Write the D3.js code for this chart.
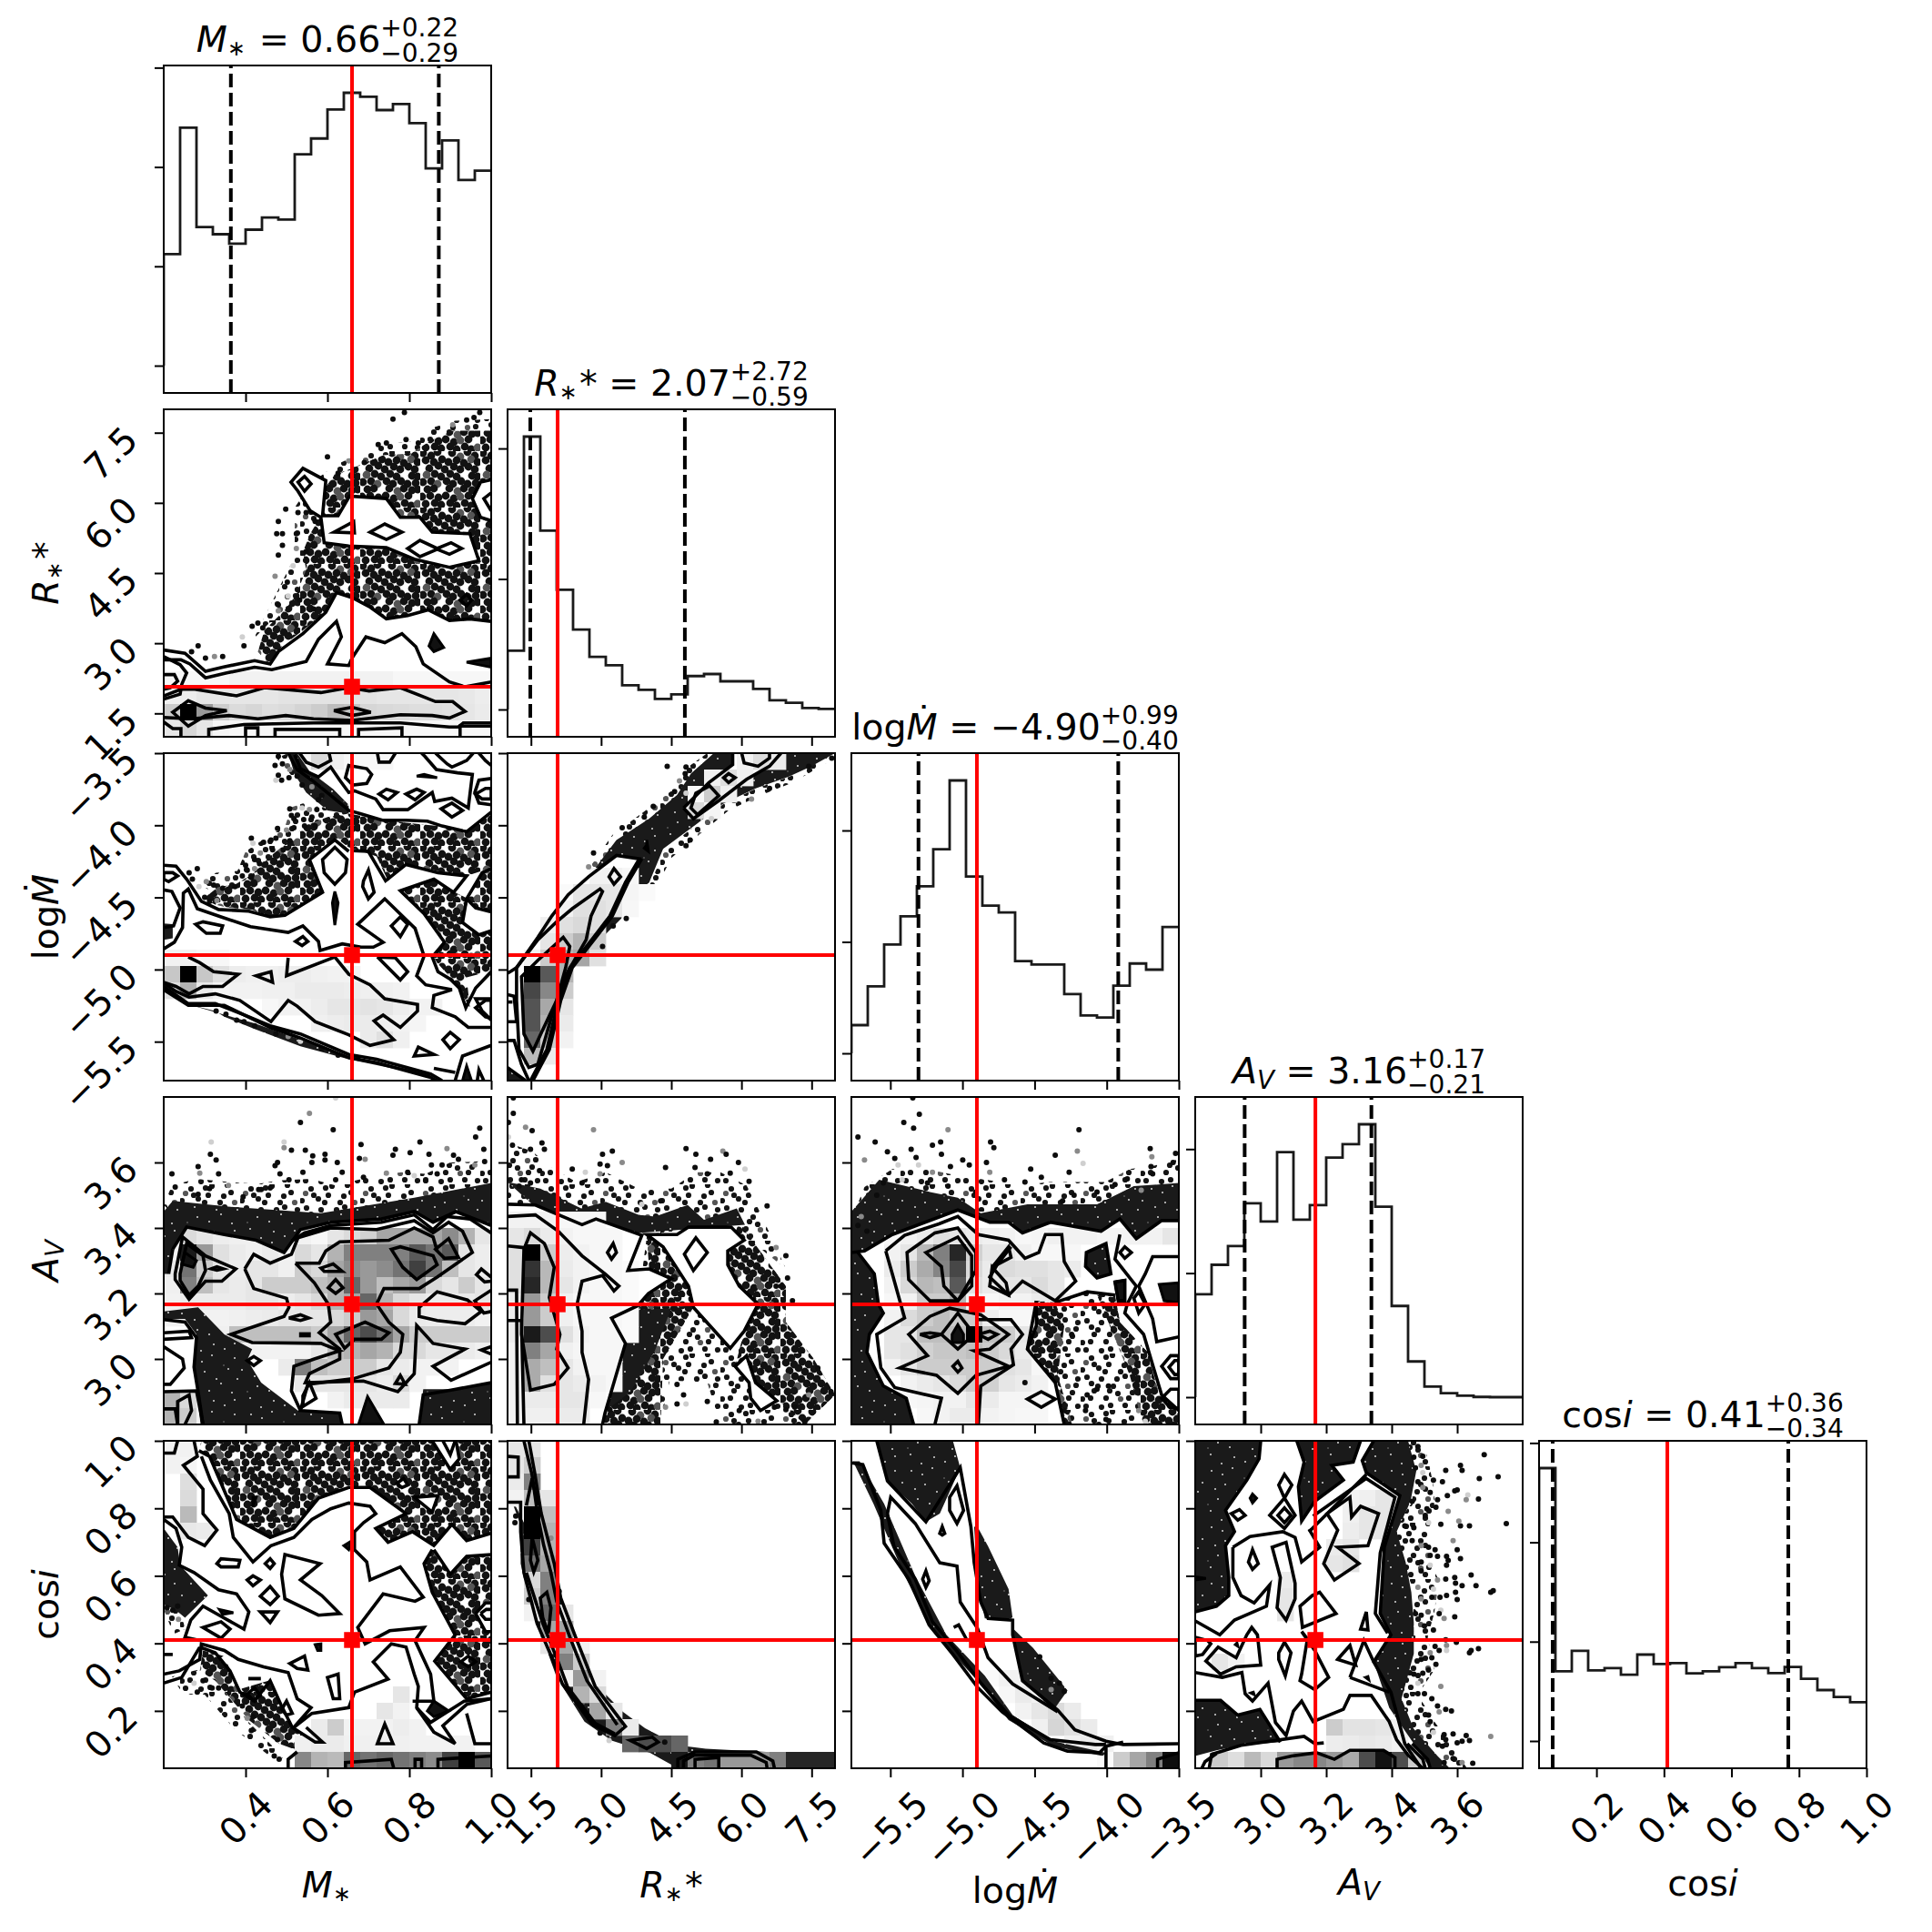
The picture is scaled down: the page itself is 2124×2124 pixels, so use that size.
<!DOCTYPE html>
<html><head><meta charset="utf-8">
<script src="https://cdn.jsdelivr.net/npm/d3@7"></script>
<style>html,body{margin:0;background:#fff}text{font-family:"DejaVu Sans";fill:#000;white-space:pre}</style>
</head><body><svg id="c" width="2124" height="2124" xmlns="http://www.w3.org/2000/svg"></svg>
<script>
// ---------- parameters ----------
const domains=[[0.2,1.0],[1.0,8.0],[-5.77,-3.5],[2.8,3.8],[0.03,1.0]];
const ticks=[[0.4,0.6,0.8,1.0],[1.5,3.0,4.5,6.0,7.5],[-5.5,-5.0,-4.5,-4.0,-3.5],[3.0,3.2,3.4,3.6],[0.2,0.4,0.6,0.8,1.0]];
const medians=[0.66,2.07,-4.90,3.167,0.41];
const q16=[0.364,1.486,-5.305,2.951,0.0704];
const q84=[0.872,4.79,-3.92,3.338,0.7684];
const titleVals=[["0.66","+0.22","−0.29"],["2.07","+2.72","−0.59"],["−4.90","+0.99","−0.40"],["3.16","+0.17","−0.21"],["0.41","+0.36","−0.34"]];
const histM=[1122,2396,1396,1323,1229,1369,1491,1470,2128,2287,2579,2747,2707,2573,2634,2442,1985,2268,1869,1963];
const histR=[451,2091,1370,918,613,404,339,186,151,81,116,256,272,216,216,158,70,51,12,5];
const histL=[253,601,976,1229,1499,1832,2449,1586,1325,1265,827,797,797,531,340,321,607,806,751,1133];
const histA=[830,1067,1218,1563,1416,1976,1431,1548,1932,2039,2200,1536,735,288,85,32,12,2,0,0];
const histC=[2747,702,907,711,733,668,870,775,784,681,702,742,784,733,684,745,626,513,443,391];
const hists=[histM,histR,histL,histA,histC];
const histTicks=[[0,1000,2000,3000],[0,1000,2000],[0,1000,2000],[0,1000,2000],[0,1000,2000,3000]];

// ---------- 2-D panels, all in posterior-grid bin coordinates (column, row of the 20x20 histogram) ----------
// R* vs M*
const fuzz21=[[6.5,13,5.5,14,7,11,8,9,8,6,9,4.5,10.5,3.4,12,2.7,13.5,2.1,15,2,16.5,1.1,17.8,.7,20,.6,20,1.5,12,4,9.7,7,8.7,10,7.5,13]];
const sparse21=[[10.4,4.05,12.1,3.35,13.4,2.8,15.1,2.7,16.4,1.85,17.65,1.3,20,1.3,20,12.85,18.7,12.8,17.45,12.85,16.15,12.2,14.9,12.6,13.6,12.8,12.55,12.05,11.5,11.5,10.55,11.2,9.9,12.4,8.5,13.5,7.25,14.45,6.4,15.55,5.75,14.8,6.15,13.5,7.45,12.2,8.1,11.3,8.7,9.8,8.5,8.7,8.95,7.6,9.6,6.5,9.7,5]];
const white21=[[7.77,4.45,8.5,3.6,9.9,4.35,9.7,6.5,10.65,6.5,11.35,5.3,13.6,5.45,14.45,6.6,15.65,6.6,16.4,7.5,18.7,7.6,19.25,9.25,17.45,9.65,15.3,9.15,13.6,8.45,11.3,8.35,9.8,8.15,9.6,6.6,8.95,6.2,8.2,5],[20,4.3,19.35,4.45,18.85,5.45,19.35,6.6,20,6.8]];
const loops21=[[7.77,4.45,8.5,3.6,9.9,4.35,9.7,6.5,10.65,6.5,11.35,5.3,13.6,5.45,14.45,6.6,15.65,6.6,16.4,7.5,18.7,7.6,19.25,9.25,17.45,9.65,15.3,9.15,13.6,8.45,11.3,8.35,9.8,8.15,9.6,6.6,8.95,6.2,8.2,5],[8.2,4.45,8.6,4.1,9,4.55,8.6,5],[10.4,7.5,11.6,6.85,11.65,7.55],[12.6,7.5,13.5,7,14.55,7.5,13.6,7.95],[14.9,8.5,15.65,8,16.7,8.5,17.55,8.15,18.2,8.5,17.45,8.85,16.7,8.55,15.65,9],[18.1,11.65,18.5,11.3,18.8,11.65,18.5,12],[1.05,17.1,1.9,17.1,4.45,17.5,6.15,17,9.6,17.3,11.3,17,12.55,17.2,14.45,17,16.6,17.85,17.65,17.85,18.4,18.45,17.45,18.85,16.4,18.7,14.45,18.65,11.5,19,9.15,18.9,7.45,18.7,5.75,18.9,4,18.7,1.7,18.9,-0.5,18.8,-0.5,17.7],[.55,18.5,1.5,17.8,2.55,18.25,3.85,18.4,2.55,18.7,1.5,19.35],[10.4,18.4,11.5,18.2,12.65,18.5,11.5,18.7]];
const lines21=[[20,4.3,19.35,4.45,18.85,5.45,19.35,6.6,20,6.8],[20,5.1,19.55,5.45,20,6.2],[0,14.7,1.3,14.9,2.55,16,3.6,15.75,5.55,15.35,6.5,15.55,7,14.8,8.5,13.7,9.9,12.4,10.55,11.2,11.5,11.5,12.55,12.05,13.6,12.8,14.9,12.6,16.15,12.25,17.45,12.9,18.7,12.8,20,12.95],[0,15.3,1.05,15.3,1.6,15.55,2.55,16.4,3.85,16.1,5.55,15.75,6.6,15.9,8.7,15.4,9.45,14.05,10.55,12.95,10.85,13.9,10,15.55,11.3,15.65,11.5,15.2,12.35,13.9,13.5,14.25,14.55,13.7,15.4,14.5,15.85,15.55,17.45,16.65,18.4,16.95,20,16.65],[0,15.1,1,15.6,1.4,16.1,1.1,16.8,1,17.4,0,17.7],[0,16.2,.65,16.2,.85,16.6,.4,17,0,17.1],[2.75,20,2.75,19.55,4.9,19.25,9.15,19.15,14.45,19.15,17.45,19.4,18,19.4,18.3,19.15,20,19.15],[5,20,5,19.45,5.75,19.45,5.75,20],[6.8,20,6.8,19.55,10.75,19.55,10.75,20],[11.9,20,11.9,19.55,14.55,19.45,14.55,20],[18.1,20,18.1,19.35,20,19.35],[1.05,20,1.05,19.5,.55,19.5,0,19.1]];
const solid21=[[16.5,13.7,17.1,14.55,16.5,14.8,16.2,14.45],[18.5,15.45,20,15.2,20,15.75]];
const dens21=[[16,0,[.03,.03,.03,.03,.05,.05,.05,.05,.05,.05,.05,.05,.05,.05,.03,.03,.03,.03,.03,.03]],[17,0,[.06,.07,.1,.1,.1,.1,.1,.11,.11,.11,.11,.11,.11,.1,.1,.1,.1,.1,.09,.07]],[18,0,[.2,1,.4,.2,.14,.16,.13,.14,.17,.2,.26,.24,.16,.15,.14,.13,.13,.12,.1,.08]],[19,0,[.1,.16,.1,.04,.03,.03,.03,.03,.03,.03,.03,.03,.03,.03,.03,.03,.03,.03,.03,.03]]];
const pts21=[2.1,14.45,1.7,14.8,2.55,15.2,3.1,15.1,3.6,15.1,4.8,13.9,4.9,14.45,5.4,13.25,5.75,13.05,6.05,13.35,7,12.3,7,6.85,6.9,7.6,7.25,7.6,7.25,8.3,7,8.9,7.9,9.55,8.1,8.5,7.45,6.1,8.2,6.3,8.7,6.3,9.25,6.85,8.1,7.6,8.7,8.7,6.8,10.2,7.55,10.55,7,11.95,7.6,11.4,8.3,11.65,9.15,12.2,10,2.9,11.3,3.15,10.65,3.9,12.25,3.25,13.1,2.15,13.6,2.05,14.8,1.85,15.55,2.05,17.65,.95,18.5,.65,19.3,.2,18.95,.5,14,.6,14.7,.2];
// log Mdot vs M*
const fuzz31=[[2,7.9,3.2,7.3,4.5,7.2,5,6,6.2,5.2,7.4,4.5,7.8,3.3,8.7,3,9.5,3.3,11.3,3.3,11.3,4,8.7,4.9,5.5,7.8,3.2,8.6],[6.9,.3,7.6,0,8.2,1.2,10.3,2.2,10.8,3.3,9.5,2.5,8,1.6]];
const sparse31=[[2.4,8.9,3.3,8.2,4.4,8,5.4,7.4,6.5,6.3,7.6,5.4,8.7,4.4,10,3.9,11.3,3.7,13,4,14.8,4.25,16.7,4.45,18.5,4.7,20,3.7,20,7,18.5,7.5,16.7,7.2,14.8,6.75,13.7,7.8,13,6.3,11.85,5.9,11.3,5.75,10.55,5.2,8.9,6.4,9.8,8.5,8.15,9.45,7.2,9.9,6.5,10,5.4,9.55,3.9,9.45,3.15,9.25],[14.45,8.4,16.5,7.7,17.8,8.5,18.6,8.9,18.25,10.45,19.25,11.1,20,10.9,20,13.3,18.5,13.7,18.7,15.55,18.05,14.45,17.6,13.8,16.7,12.8,16.4,12.3,17.15,11.55,15.9,9.8],[18.5,8.9,19.45,7.3,20,7.1,20,9.7,19.1,9.45]];
const dense31=[[7.6,0,8.15,0,8.9,1.1,10.35,2.2,11.3,3.15,11.3,3.7,10,3.5,8.7,2.4,8,1.3],[1.5,15.35,5.55,16.5,8.35,17.5,11.3,18.5,16.3,19.6,16.3,19.75,11.3,18.7,8.35,17.9,5.55,16.85,3.7,16.1,3.15,15.75],[0,10.4,.55,10.45,.55,11.3,0,11.4]];
const lines31=[[8.3,0,8.7,.55,9.45,.85,10.2,.45,10.1,0],[7.6,0,8.15,1,9.05,1.65,10.35,2.7,11.3,3.5,12,3.7,13.35,4.1,14.8,4.1,16.1,4.15,17,4.45,18.5,4.8,20,3.6],[8,.1,8.35,.95,9.45,1.45,10.2,.85,10.75,1.65,11.3,2.4,11.65,2.3,12.95,2.8,13.4,3.45,14.9,3.45,16.4,2.4,16.55,2.95,17.6,2.75,18.6,3.35,18.85,1.3,17.95,1.2,16.65,1,15.95,.2,15.75,0],[13.05,0,13.15,.55,13.8,.55,14.15,0],[16.6,0,17.3,.65,17.6,.85,18.5,.45,18.9,0],[19.25,0,19.65,.45,20,.75],[20,1.55,19.25,1.65,19,2.4,19.25,3.05,20,3.15],[0,6.85,.75,6.9,1.4,7.7,2.3,9.05,3.35,9.55,5.2,9.65,6.5,10,7.4,9.9,9.7,8.5,8.9,6.5,10.45,5.3,11.3,6],[11.55,5.95,12.5,6,13.55,7.8,14.8,6.8,16.75,7.3,18.5,7.5,17.7,8.5,16.5,7.7,14.45,8.4,15.9,9.8,17.15,11.55,16.4,12.45,16.75,13.35,17.5,13.8,18.05,14.35,18.45,15.55,19.05,14.35,20,13.35],[18.5,8.9,18.25,10.35,19.25,11.1,20,10.85],[20,9.7,19.05,9.45,18.5,8.9,19.45,7.3,20,7.05],[0,8.35,.5,8.45,1,9.45,.6,10.55,0,10.65],[0,11.95,.65,11.55,1.15,10.65,1.2,8.55,1.5,8.3,2.05,9.5,3.5,10,5.3,10.6,7.6,10.95,8.5,10.55,9.45,11.5,9.55,12.05,10.9,11.65,12.05,11.85,12.8,11.85,13.4,11.55,11.85,10.45,13.5,8.9,15.35,10.7,15.9,12.4,15.45,13.6,16,14.15,17.6,14.45,16.5,14.8,16.4,15.55,17.8,16.1,18.6,16.75,20,16.75],[0,14.05,.75,14.55,1.55,14.9,3.15,14.7,4.65,15.1,6.55,16.4,7.6,15.1,8.15,15.45,9.25,16.4,11.3,17.2,12.6,17.85,14.05,17.5,12.85,16.35,13.4,16,14.45,16.75,15.5,15.75,15.5,15.35,13.5,15,12.6,14.15,11.3,13.5,10.45,12.45,7.5,13.6,7.6,12.5],[1.5,12.45,2.2,12.8,3.05,13.35,4.55,13.5,3.6,14.25,2.4,14.25,1.55,14.7,.75,14.25,0,14],[13.05,12.45,14.45,13.85,14.9,13.35,14.15,12.5,13.05,12.45],[0,14.25,1.5,15.3,3.15,15.3,5.2,16.1,6.5,16.65,8.35,17.15,11.3,18.4,13,18.7,16.3,19.6,17,20],[0,14.45,1.5,15.4,3.7,15.4,5.55,16.3,6.5,16.75,8.35,17.4,11.3,18.6,13,18.9,16.3,19.8,17,20.2],[20,15,19.05,15,19.45,15.75,20,16.3],[17.8,20,18.25,18.5,20,17.85],[19.15,20,19.25,19.35,19.55,20],[16.5,19.25,17.8,19.5,16.5,19.25]];
const loops31=[[11.3,.75,11.1,1.5,11.55,1.95,12.4,1.85,12.7,1.3,12.4,.95],[13.15,2.5,13.6,2.2,14.25,2.4,13.7,2.85],[14.8,2.5,15.45,2.2,15.9,2.4,15.35,2.85],[16.95,3.4,17.6,3.05,18.25,3.5,17.6,3.9],[19.05,2.5,19.65,2.15,20,2.15,20,2.8,19.45,2.8],[0,7.3,.55,7.3,.85,7.5,.3,7.85,0,7.7],[1.95,10.45,2.4,10.3,3.6,10.55,3.45,11,2.6,11],[8.05,11.5,8.5,11.2,8.8,11.5,8.45,11.75],[9.8,6.4,10.45,5.75,11.2,6.5,11.1,7.3,10.45,8,9.8,7.3,9.7,6.5],[13.9,10.55,14.45,10,14.9,10.45,14.45,11.2],[12.2,7.8,12.5,7.15,12.85,8.5,12.5,8.9,12.15,8.15],[5.65,13.6,6.55,13.35,6.65,14,5.65,13.6],[17.05,17.5,17.5,17.05,18.05,17.5,17.5,18.05],[15.3,18.5,15.55,17.95,16.5,18.4],[19.05,15.55,19.65,15.1,20,15.1,20,16.2,19.65,16.1]];
const solid31=[[15.45,1.4,16.7,1.5,15.9,1.3],[10.3,9.15,10.45,8.45,10.65,9.15,10.45,10.5],[18.5,19.1,18.25,20,18.8,20]];
const dens31=[[12,0,[.05,.05,.03,.03]],[13,0,[.22,1,.22,.12,.07,.06,.06,.07,.07,.06,.05,.05]],[14,0,[.12,.3,.08,.04,.05,.05,.06,.06,.08,.08,.08,.07,.06,.06,.05]],[15,6,[.03,.05,.05,.07,.1,.1,.11,.1,.07,.05,.05]],[16,9,[.06,.07,.08,.08,.06,.05,.04]],[17,12,[.08,.12,.06]],[0,8,[.03,.14,.06,.03,.03,.03]]];
const pts31=[7,.2,6.8,.75,7.25,.65,7.7,1,7,1.35,6.85,1.65,7.2,1.65,7.65,1.5,8.15,1.4,8.45,1.95,9.05,2.05,9.65,2.6,9.45,2.85,7.7,3.4,7.8,3.8,7.95,4,8.45,3.35,8.9,3.45,9.35,3.45,8.55,4.05,9.05,3.9,7.95,4.55,8.6,4.45,6.95,4.6,7.5,4.7,9.25,4.45,5.35,5.2,5.45,5.5,6.1,5.45,6.55,5.3,6.85,5.2,5.9,6.1,6.65,5.9,7.7,5.35,7.3,5.9,5.55,6.5,5,6.85,5.1,7.15,5.55,7.05,5.85,6.75,4.8,7.5,5.35,7.6,4.35,8.15,3.6,8.25,3.05,8.05,2.6,7.85,2.05,7.05,1.55,7.3,1.75,7.7,2.15,8.15,2.5,8.8,2.8,9.05,3.25,9,3.2,15.75,3.8,15.95,4.45,16.3,4.9,16.4,5.55,16.65,6.85,17.15,7.6,17.3,8.35,17.6,9.65,18.05,10.65,18.45,11.85,18.6];
// R* vs log Mdot column
const fuzz32=[[5,7,6.4,5,8.3,3.6,10,2.3,10.8,1,12.2,0,13,0,11.4,1.5,10.5,3,8.7,4.4,6.8,5.8,5.5,7.4],[9.6,5.9,11.5,4.4,13.2,3.1,15.2,2.15,17.2,1.45,20,0,20,.3,17.4,1.8,15.4,2.6,13.5,3.5,11.8,4.9,10,6.4,9.2,8,8.7,8]];
const dense32=[[5.25,7.15,6.65,5.3,8.65,4,10.35,2.55,11.2,1.25,12.6,0,20,0,18.55,.8,17.15,1.45,15.15,2.15,13.15,3.1,11.45,4.4,9.5,5.85,8.65,7.9,7.2,9,6.95,10.1,5.8,11.25,3.8,13.1],[0,19.2,1.1,20,0,20]];
const white32=[[10.75,3.35,11.35,4,12.9,2.9,13.75,2.25,14.6,1.6,16,.8,16.7,0,13.75,0,13.75,.7,12.3,1.8],[1.4,20,2.4,18.1,3.1,15.1,3.8,13.1,5.25,11.25,6.25,9.95,7.2,7.9,8.05,6.45,6.65,6.25,4.95,7.55,3.7,8.65,2.7,9.95,1.85,11.25,.55,13.1,0,13.45,0,19.2,1.1,20]];
const lines32=[[1.4,20,2.4,18.1,3.1,15.1,3.8,13.1,5.25,11.25,6.25,9.95,7.2,7.9,8.05,6.45,6.65,6.25,4.95,7.55,3.7,8.65,2.7,9.95,1.85,11.25,.55,13.1,0,13.45],[1.55,20,2.55,18.1,3.25,15.1,3.95,13.1,5.4,11.25,6.4,9.95,7.35,7.9,8.2,6.45],[0,14.75,.4,14.85,.55,16.4,0,16.4],[0,15.2,.3,15.2],[0,17.55,.4,17.55,.85,19,1.3,20],[0,19.2,1.1,20],[10.75,3.35,11.35,4,12.9,2.9,13.75,2.25,14.6,1.6,16,.8,16.7,0],[10.75,3.35,12.3,1.8,13.75,.7,13.75,0],[14.3,0,14.45,.6,15.3,.8,16,.3,16,0]];
const loops32=[[.55,13.1,1.85,11.4,3,10.3,3.95,9.5,5.65,8.3,5.8,8.45,5.1,9.95,4.8,11.4,3.4,13.85,2.7,16.05,1.85,19,1.3,19.2,.7,18.1,.55,15.1],[.85,13.65,1.85,12.65,3.4,11.25,3.8,11.8,3.55,13.1,3,15.1,2.1,17,1.55,18.2,1,17.15],[6.2,7.55,6.5,7.05,6.9,7.55,6.5,8],[11.2,3.35,11.6,3.75,12.9,2.6,12.35,2,11.5,2.45],[13.2,1.5,13.5,1.25,13.9,1.5,13.5,1.8]];
const solid32=[[8.5,5.6,8.5,5.3,8.6,6,8.35,5.8]];
const dens32=[[0,14,[.05,.13,.08]],[1,12,[.06,.13,.06]],[2,11,[.03,.2,.06]],[3,11,[.15,.04]],[7,5,[.05,.05,.03]],[8,3,[.02,.1,.1,.1,.04,.02]],[9,3,[.05,.12,.12,.1,.03]],[10,2,[.06,.12,.15,.12]],[11,2,[.1,.2,.3,.2]],[12,1,[.05,.2,.3,.35,.12]],[13,1,[1,.65,.3]],[14,1,[.72,.47,.2]],[15,1,[.67,.34,.1]],[16,1,[.67,.3,.08]],[17,1,[.6,.2,.05]],[18,1,[.27,.08]]];
const pts32=[9.75,.8,10.9,.85,10.85,1.25,10.5,1.7,10.2,2.35,10.9,2.45,8.9,3.25,8.35,3.9,7,4.55,5.25,6.1,4.95,6.95,7.25,10.1,6.45,10.55,5.8,11.8,11.15,5.3,10.9,5.65,12.45,4,14.9,2.8,16,2.15,18.4,.8,19.8,.3];
// Av vs M*
const fuzz41=[[0,6.6,.5,5.4,2,5,4,5.2,5.8,5.3,7,5.1,9,5,10.5,5.4,12.5,4.9,14.5,4.6,16,4.7,17.5,4,20,3.9,20,6,15,6.8,9.6,7.5,4,7,.6,7.2]];
const dense41=[[.55,6.35,3.95,6.7,9.6,7.1,15.3,6.15,20,5.25,20,7.85,17.85,7,16.45,7.65,15.3,7,13.3,7.45,10.2,7.65,8.35,8.1,7.35,9.5,5.65,8.75,3.7,8.4,1.4,7.95,.55,9.3,.3,10.8,0,10.8,0,7],[0,13.1,2.1,12.85,3.7,14.5,5.4,15.4,5.1,16.05,5.95,17.45,8.2,19.15,10.75,19.3,10.9,20,2.25,20,1.85,16.35,2,14.5,1.3,13.55,0,13.55],[15.6,20,15.85,17.85,17.55,17.85,20,17.45,20,20],[11.9,20,12.45,18.3,13.45,20]];
const lines41=[[.55,9.3,1.4,7.95,3.7,8.4,5.65,8.75,7.35,9.5,8.35,8.1,10.2,7.65,13.3,7.45,15.3,7,16.45,7.65,17.85,7,20,7.85],[7.8,8.8,8.6,8.3,10.2,7.85,13.3,7.65,15.3,7.2,16.45,8.1,17.3,7.3,18.7,7.45,20,8.3],[.3,10.8,.55,9.3],[4.95,10.5,5.5,9.6,6.5,10.15,7.8,9.6,8.2,8.6,10.2,8,13,8.1,15.3,7.55,16.45,8.3,17.4,7.65,18.25,8.2,18.85,9.5,16.7,11,15.6,11.7,13.45,11.7,13,12.65,13.75,13.75,14.6,14.5,14.45,15.6,13.75,16.55,11.6,17.2,8.8,17.55,8.35,19.15,10.75,19.3,10.9,20],[4.95,10.5,5.5,11.7,7.5,12.3,7.65,12.85,7.35,13.4,4.1,14.5,5.4,15,9.6,15.05,10.75,15.5,9.2,16,7.95,16.45,7.8,17.95,8.35,19.15],[8.05,10.15,9.5,10.15,9.9,9.4,10.75,8.85,13.75,8.75,15.3,8,16.45,8.55,16.7,9.4],[8.05,10.15,9.2,11.35,10.05,12.65,10.2,13.75,9.5,14.4,10.75,15.4,10.75,16,8.9,16.9,8.65,17.45,12.2,17.35,14.3,18,15.3,16.9,15.45,13.95,16.45,15.05,18.4,15.4,16.45,16.45,17.55,17.3,20,16.2],[20,11,19.4,10.5,19.1,10.85,19.6,11.3,20,11.25],[20,11.8,19,12.45,19.55,13.2,20,13.1],[20,15.25,19.4,15.45,20,15.7],[0,14.4,1.55,14.3,1.7,14.7,0,14.8],[0,15.25,1.15,16,1.25,16.55,.4,17.55,0,17.55],[0,13.6,1.3,13.75,2,14.7,1.85,16.5,2.1,18,2.4,20],[0,18,2,17.95,2.4,20],[.85,20,.85,18.6,1.55,18.2,1.7,19.15,1.3,20],[0,19.05,.7,19.05,.85,20],[15.6,20,15.85,18.2,17.55,17.9,20,17.45]];
const loops41=[[.7,10.8,1.15,8.55,2.55,9.7,4.4,10.5,3.55,11.25,2.55,11.25,1.55,12.35,.7,11.15],[1,10.8,1.4,8.95,2.4,9.7,2.55,10.6,2.1,11.55,1.55,12.1,1,11.2],[13.9,9.3,14.45,9.15,16.45,9.7,16.7,10.25,15.45,11.15,14.6,10.4],[16.6,9.3,17.4,8.65,18,9.8,17.15,9.85],[15.6,13.4,16.7,13.65,18.4,13.85,19.4,13.1,18.55,12.4,16.7,11.9,15.6,12.85],[10.5,14.5,12.3,13.75,13.75,14.4,13.3,14.8,11.65,14.8,11.05,15.35],[9.6,10.45,10.35,10.2,10.9,10.65,9.8,10.65],[10.05,11.65,10.5,11.15,10.95,11.65,10.5,12],[7.65,13.5,8.35,13.3,8.85,13.5,8.35,13.65],[5.1,16.1,5.5,15.85,5.9,16.1,5.5,16.4],[14.15,17.5,14.45,17,14.75,17.55],[8.5,18.25,8.9,17.45,9.3,18.4,8.5,18.9]];
const solid41=[[2.85,10.5,3.25,10.35,3.7,10.5,3.25,10.6],[8.35,14.45,8.9,14.45,8.9,14.6,8.35,14.6],[11.9,20,12.45,18.3,13.45,20],[1.3,9.5,2,10,1.8,10.4,1.1,10.2]];
const dens41=[[8,0,[.05,.14,.1,.07,.06,.06,.05,.05,.05,.03,.1,.14,.18,.35,.35,.35,.35,.45,.3,.1]],[9,0,[.05,.9,.4,.12,.08,.06,.08,.05,.15,.1,.3,.5,.5,.5,.5,.65,.55,.65,.1,.07]],[10,0,[.08,.55,.2,.1,.07,.1,.1,.06,.2,.15,.35,.45,.4,.45,.55,.75,.55,.25,.1,.07]],[11,0,[.06,.5,.25,.1,.08,.1,.2,.2,.2,.25,.3,.6,.4,.25,.35,.4,.15,.1,.2,.1]],[12,0,[.05,.08,.08,.08,.08,.1,.1,.07,.1,.15,.3,.35,.6,.3,.15,.1,.08,.08,.08,.1]],[13,0,[.05,.05,.05,.05,.06,.07,.08,.1,.1,.1,.15,.2,.4,.35,.15,.08,.07,.07,.07,.05]],[14,2,[.05,.06,.25,.25,.25,.25,.25,.2,.35,.6,.7,.55,.35,.2,.2,.2,.2,.2]],[15,3,[.05,.05,.05,.05,.05,.05,.1,.25,.3,.35,.3,.15,.15,.1,.1,.08,.06]],[16,7,[.08,.5,.25,.2,.2,.2,.1,.08,.05,.05,.05]],[17,8,[.08,.1,.1,.1,.1,.07,.15,.05]],[18,10,[.05,.08,.08,.08,.08]],[18,0,[.3,.15,.06]],[19,0,[.3,.2,.05]]];
const pts41=[.5,4.7,.7,5.5,2.1,4.25,2.2,4.65,2.85,3.5,2.9,2.75,3.2,3.85,3.35,4.7,2.8,5.6,2.1,5.95,3.95,5.4,4.85,6.1,5.95,5.65,6.5,5.55,6.8,4.2,6.95,4,7.35,2.75,7.35,3.1,7.8,3.25,8.65,3.25,9.1,3.6,9.05,4,9.85,3.5,9.85,3.85,8.9,1,8.35,1.55,10.35,2,10.5,.05,10.6,4,10.9,4.6,12.05,2.9,12.3,3.8,11.95,3.75,14,3.55,14.15,3.2,15.05,3.4,15.65,2.75,16.2,3.5,17.3,3.15,17.7,3.55,18,3.8,19.3,1.9,19.05,2.45,19.55,3.2,19.6,3.95,19,4.15,17,4.15,16.35,4.15,16.7,4.7,15.3,4.8,16,5.05,14.9,4.6,13.6,4.65,12.2,4.9,10.5,5.05,8.5,4.6,7.1,4.7,7.65,5.05,5.8,5.65];
// Av vs R*
const fuzz42=[[0,2.8,1.5,3.3,2.5,4.2,4.2,5.2,6,4.6,8,5.6,10,5.6,11.5,4.6,13,4.6,14.6,5.4,15.4,7,17,10.5,14.5,8.5,12,7.9,9,8.5,5,7.8,0,6.6],[6.35,13.5,7.95,12.75,8.5,8.55,9.35,8,14.15,7.65,15.85,10,17,11.55,17,13.75,18.7,16,20,18.2,18.15,20,13,20,12.2,17.45,9.9,17.3,9.35,20,5.8,20,5.95,19.3,7.2,15.05]];
const sparse42=[[6.35,13.5,7.95,12.75,11.35,12.85,9.5,16,9.35,20,5.8,20,5.95,19.3,7.2,15.05],[14.15,7.65,15.85,10,17,11.55,17,13.75,18.7,16,20,18.2,18.15,20,16.5,18.5,13.9,16.45,14.45,14.3,15.3,12.65,14.15,11.55,13.45,10.25,13.45,9.4],[8.5,8.55,9.35,8,9.5,9.15,11.05,11.55,11.35,12.85,8,12.75,8.65,10.5]];
const dense42=[[0,5.2,2,5.6,4.5,6.8,6,6.4,8,7.2,9,7.3,11,6.6,12,7.5,14,6.8,14.5,7.8,8,8.3,2,7],[6.4,14,8,13,10,12.9,9,15.5,7.5,18,6.2,19]];
const white42=[[0,6.55,1.7,6.6,4.55,7.8,5.4,7.45,8.2,8.45,7.35,10.6,8.65,10.5,10,11.1,8.6,12,7.95,12.75,6.35,13.5,7.2,15.05,5.95,19.3,5.8,20,0,20],[8.5,8.4,10.35,8.4,11.05,7.95,13.65,7.95,14.45,8.75,13.45,9.4,13.45,10.25,14.15,11.55,15.3,12.65,14.45,14.3,13.6,15.35,11.35,12.85,11.05,11.55,9.5,9.15],[13.9,16.45,14.6,15.8,15.15,17.45,16.45,18.55,15.45,19.15,14.85,18.4,14.75,17.45]];
const lines42=[[0,6.55,1.7,6.6,4.55,7.8,5.4,7.45,8.2,8.45,7.35,10.6,8.65,10.5,10,11.1,8.6,12,7.95,12.75,6.35,13.5,7.2,15.05,5.95,19.3,5.8,20],[0,7.3,1.7,7.2,3.1,8.2,4.55,9.7,5.95,10.8,6.8,11.55,6.5,11.85,5.8,10.9,4.55,11.25,4.25,12.65,4.55,14.3,4.55,15.6,4.95,17.25,4.65,20],[0,11.8,.55,11.8,.6,20],[0,13.65,.85,13.65,1,20],[0,9.1,1,9.2]];
const loops42=[[8.5,8.4,10.35,8.4,11.05,7.95,13.65,7.95,14.45,8.75,13.45,9.4,13.45,10.25,14.15,11.55,15.3,12.65,14.45,14.3,13.6,15.35,11.35,12.85,11.05,11.55,9.5,9.15],[13.9,16.45,14.6,15.8,15.15,17.45,16.45,18.55,15.45,19.15,14.85,18.4,14.75,17.45],[1,9.3,1.4,8.3,2.25,8.95,2.85,10.4,2.55,12.25,3.2,14.5,3,15.4,3.7,16.55,2.85,17.55,1.4,17.9,.85,14.5],[10.8,9.6,11.5,8.6,12.2,9.5,11.35,10.6],[6.1,9.5,6.45,8.95,6.65,9.5,6.35,9.9]];
const dens42=[[7,0,[.05,.05,.05,.03,.03,.03]],[8,0,[.1,.14,.08,.05,.03,.03,.03]],[9,0,[.12,1,.2,.07,.05,.03,.03]],[10,0,[.12,.8,.28,.08,.05,.03,.03,.02]],[11,0,[.12,.85,.28,.1,.05,.03,.03,.02]],[12,0,[.08,.4,.2,.06,.03,.03,.03,.02]],[13,0,[.08,.4,.2,.06,.03,.03,.03,.02]],[14,0,[.08,.9,.7,.12,.05,.03,.03,.02]],[15,0,[.05,.5,.35,.06,.04,.03,.03]],[16,0,[.05,.33,.25,.1,.05,.03,.03]],[17,0,[.05,.33,.12,.1,.08,.05,.03]],[18,0,[.05,.08,.08,.1,.1,.03]],[19,0,[.05,.06,.06,.08,.08]]];
const pts42=[.35,.05,.35,1,.05,1.55,1.1,1.85,1.5,2.05,.05,2.45,.3,2.95,1.4,3.2,2.25,3.2,2.1,2.8,5.25,2,6.4,3.3,5.8,3.5,6.1,4.2,5.65,4.1,3.95,4.4,4.75,4.6,7,4,9.65,4.3,10.9,3.15,11.5,3.5,11.45,4.3,12.2,4.7,12.4,3.8,13.15,3.3,13.35,3.5,14.1,4,14.5,4.4,13.6,4.65,14.75,5.15,15.85,6.65,16.4,9.2,17,9.7,17.1,11.05,16.7,11.55,16.4,11.55,17.4,12.45,18.95,16.55,18.4,18.2,19.75,18,18.15,19.85,17,19.1,17.55,18.95,16.3,18.95,14.15,19.15,15.3,19.8,10.75,18.2,10.35,17.55,10.35,18.75,10.9,18.75,12.2,18.6,12.75,19.85,9.65,18.95,6.25,19.1,.85,5.05,1.95,4.5,1.4,5.25,.7,5.45,4.55,5.25,5.65,4.7,8.2,6.55,9.35,6.35];
// Av vs log Mdot
const fuzz43=[[0,7.5,.8,5.5,2.5,4.4,4.6,4.4,6.5,4.8,8.5,5.1,10.5,5.4,12,5.2,13.8,5.2,15.5,5.2,17,4.4,18.5,4.2,20,3.8,20,6,16,7,10,7,5,7,1.5,8.5],[11.3,12.45,12.45,12.55,14.4,11.9,16.1,12.1,16.4,13.75,18.1,15.6,18.8,18.2,20,19.15,20,20,13,20,12.45,17.45,10.75,15.4,11.3,13.95]];
const dense43=[[0,9.5,0,7,1.7,5.05,4.8,5.8,6.5,6.15,7.9,7.1,10.75,6.55,15,6.55,17.25,5.45,20,5.25,20,7.55,18.95,7.55,17.4,8.65,16.4,7.45,15.25,8.2,12.15,7.65,10.45,8.3,9.6,7.65,8.45,7.65,6.5,6.9,4.5,7.65,2.5,8.4,.8,9.4],[0,9.5,.4,9.5,1.4,10.8,1.65,12.65,1.95,13.2,1.1,14.5,.95,15.6,1.95,17.65,3.35,18.4,3.8,20,0,20],[14.35,9.5,15.55,8.95,15.85,10.8,15,11.05,14.3,10.35],[18.8,11.45,20,11.35,20,12.55,19.1,12.45]];
const sparse43=[[11.3,12.45,12.45,12.55,13,14,12.6,17,13.5,20,13,20,12.45,17.45,10.75,15.4,11.3,13.95],[15,12.1,16.1,12.1,16.4,13.75,18.1,15.6,18.8,18.2,20,19.15,20,20,17.8,20,17,17,16,14.5]];
const lines43=[[0,9.5,.8,9.4,2.5,8.4,4.5,7.65,6.5,6.9,8.45,7.65,9.6,7.65,10.45,8.3,12.15,7.65,15.25,8.2,16.4,7.45,17.4,8.65,18.95,7.55,20,7.55],[.4,9.5,1.4,10.8,1.65,12.65,1.95,13.2,1.1,14.5,.95,15.6,1.95,17.65,3.35,18.4,3.8,20],[2.1,9.4,3.25,8.45,5.35,7.75,6.5,7.3,7.75,8.4,9.6,8.75,10.6,9.85,11.45,9.5,11.85,8.4,12.85,8.4,13,10.05,13.7,11.25,12.45,12.45,10.45,11.25,9.6,12.1,8.45,11,8.9,10.25,9.75,9.15],[2.1,9.4,2.5,10.8,3.25,13.5,1.55,14.5,1.8,16.55,2.65,17.75,5.5,18.4,5.1,20],[7.6,13.6,9.75,13.6,10.45,14.5,9.75,15.4,9.9,16.35,7.9,17.65,7.75,20],[12.45,12.55,14.4,11.9,16.1,12.1],[11.3,12.45,10.75,15.4,12.45,17.45,13,20],[11.3,12.45,11.3,13.95,10.75,15.4],[16.4,8.4,16.1,9.9,17.4,11.55,16.85,12.65,16.7,13.2,17.85,14.5,18.95,18.2,20,19.15],[20,9.75,18.4,9.75,17.95,10.8,17.55,11.55,18.4,13.55,18.65,14.95,20,14.65]];
const loops43=[[3.4,9.5,5.1,8.3,6.5,8,7.6,9.5,7.6,10.6,6.5,12.45,4.8,12.45,3.5,11.15],[4.55,9.5,6.5,8.55,7.35,9.7,7.35,11.55,6.5,12.45,5.65,11.55,5.5,10.35],[8.6,10.4,9.6,9.15,9.75,9.8],[8.6,10.4,8.45,11.55,9.6,12.1,9.45,11.35],[6.5,13.2,7.5,14.5,6.5,15.4,5.5,14.5],[4.2,14.5,4.8,14.4,5.5,14.5,4.8,14.7],[7.75,14.5,8.45,14.3,8.9,14.5,8.35,14.8],[3.5,14.5,4.8,13.4,6,12.9,7.9,13.3,9.6,14.5,8.45,15.4,7.5,15.5,9.6,16.45,7.6,17,6.5,18.1,5.2,17,2.95,16.55,4.65,15.8],[6.2,16.45,6.5,16.15,6.75,16.55,6.5,16.8],[10.75,18.45,11.6,18,12.45,18.45,11.6,18.95],[16.4,9.5,16.7,9.15,17.1,9.5,16.7,9.85],[17.25,12.3,17.55,11.9,17.95,12.65,17.55,13.2],[18.95,16.45,19.5,15.8,20,15.8,20,17.2,19.5,17.2],[19.4,16.5,19.75,16.1,20,16.1,20,16.95,19.75,16.95],[18.95,18.4,19.5,17.85,20,17.85,20,19,19.5,19],[14.35,9.5,15.55,8.95,15.85,10.8,15,11.05,14.3,10.35],[16.1,11.3,16.7,11.2,16.7,12.45,16.3,12.45]];
const solid43=[[16.1,11.3,16.7,11.2,16.7,12.45,16.3,12.45],[6.15,14.5,6.5,13.9,6.85,14.5,6.85,15,6.15,15],[18.8,11.45,20,11.35,20,12.55,19.1,12.45]];
const dens43=[[8,2,[.03,.05,.08,.12,.1,.08,.06,.05,.03,.04,.06,.05,.05,.04,.04,.05,.05,.1]],[9,2,[.05,.1,.28,.5,.85,.18,.1,.1,.06,.03,.03,.03]],[10,2,[.08,.2,.33,.48,.72,.15,.08,.14,.12,.12,.1,.08]],[11,2,[.05,.15,.28,.25,.65,.12,.08,.1,.1,.14,.1]],[12,2,[.03,.05,.2,.2,.3,.05,.03,.05,.05,.08,.1,.05]],[13,2,[.05,.14,.2,.25,.2,.2,.07,.03,.03]],[14,2,[.1,.1,.25,.25,.25,1,.25,.2,.1,.03]],[15,2,[.1,.12,.18,.22,.22,.25,.2,.15,.08,.03]],[16,2,[.05,.1,.2,.2,.2,.2,.2,.12,.1,.03]],[17,3,[.05,.08,.1,.14,.2,.18,.1,.08,.05]],[18,3,[.03,.04,.05,.05,.1,.08,.04,.04,.03]],[19,4,[.03,.05,.08,.08,.05,.04,.03,.03]]];
const pts43=[.4,2.45,1.45,2.75,2.2,3.35,.8,3.85,2.65,3.75,2.85,4.15,3.2,1.55,3.8,1.9,4.15,1.05,3.75,.05,5.9,2,5.5,3.5,4.95,2.95,5.45,2.75,3.65,3.2,3.95,3.7,4.1,4.15,4.95,4.6,6.05,4.25,6.8,3.85,7.2,4.15,8.25,4,8.7,3.1,8.5,2.75,13.8,3.3,12.45,3.55,13.3,4.6,14.15,4.05,10.95,4.4,13.9,2,18.25,3.15,18.35,3.65,19.8,3.45,19.65,4,18.3,4.25,18.4,4.7,16.85,5,16.1,5.35,17.7,5.7,15,5.8,13.6,6,12.9,6.35,11.6,4.9,10.6,5.2,9.35,5.05,8.45,4.6,7.6,5.8,5.9,5.45,4.65,5.25,3.1,5.05,1.95,5.25,1.55,6,.6,7.3,.4,7.85,.95,8.2,10.6,17.45,13.45,14.5,15,17.85,15.7,17.65,17.55,19.15,17.95,19.8,14.4,18.2,13,19.15,14.3,19.15,15.55,19.7];
// cos i vs M*
const fuzz51=[[.5,14.4,2,14,3.3,14.8,5.2,17.2,7.3,19.3,7,19.7,6.4,19.2,4.3,17.6,2.5,15.5,1.2,15.5],[0,9,1,10.2,1.3,11.5,.6,11.8,0,10.3]];
const dense51=[[0,5.35,.85,6.5,1,7.6,2.7,9.45,1.3,10.8,.75,10.35,0,10]];
const sparse51=[[2.15,.6,2.8,.95,4.45,4.8,6.5,5.9,7.95,5.35,9.45,3.5,11.3,2.85,12.6,2.85,14.8,4.45,12.95,5.35,13.7,6.2,15.2,5.55,16.5,6.4,17.6,5.1,18.5,6.1,20,5.65,20,0,2.3,0],[16.5,6.65,15.9,7.5,16.4,9.25,17.8,11.85,16.55,13.45,18.5,15.75,20,15.35,20,6.95,18.5,7.05,17.5,8.15],[2.4,12.8,3.7,13.15,4.55,15.2,6.4,14.65,7.2,16.3,7.85,17.5,9.25,18.4,8.15,18.9,7.05,18.5,5.2,17.05,3.15,14.65,2.2,14.05]];
const white51=[[16.4,0,17.5,1.75,18.05,1.1,17.85,0],[15.3,3.45,16.75,3.35,16.4,4.35],[14.25,2.6,14.65,2.3,14.9,2.7,14.55,2.85],[19.05,10.55,19.65,9.9,20,9.9,20,11.65,19.65,11.65]];
const lines51=[[0,.75,.65,.75,.85,0],[1.85,0,2.05,.95,1.2,1.5,2.4,2.95,2.4,4.45,3.25,5.45,2.5,6.4,1.5,5.9,.55,4.65,0,4.65],[2.15,.6,2.8,.95,4.45,4.8,6.5,5.9,7.95,5.35,9.45,3.5,11.3,2.85,12.6,2.85,14.8,4.45,12.95,5.35,13.7,6.2,15.2,5.55,16.5,6.4,17.6,5.1,18.5,6.1,20,5.65],[2.3,.95,2.85,2.4,4,4.45,4.25,5.9,5.45,7.4,6.55,6.4,7.95,5.9,9.05,4.8,10.2,4.15,11.3,3.8,12.6,4,12.95,4.45,12.2,5,11.65,5.55,11.65,6.65,12.4,7.4,12.6,8.5,14.45,7.7,15.85,9.55,15.35,9.8,13.4,9.35,11.85,11.4,12.3,12.4,13.8,11.6,15.9,11.4,15.35,12.2,16.3,14.25,16.5,15.9,15.2,15.9],[16.5,6.65,17.5,8.15,18.5,7.05,20,6.95],[16.4,6.65,15.9,7.5,16.4,9.25,17.8,11.85,16.55,13.45,18.5,15.75,20,15.35],[0,4.8,.75,5.35,1.1,6.5,.95,7.6,1.85,8.05,3.35,9.1,4.45,9.35,5.2,10.45,4.9,11.5,2.4,10.1,1.65,10.95,1.3,12,2.2,12.2],[0,13.05,.55,13.05],[0,14.25,.95,14.05,2.2,13.35,2.3,12.4,3.7,12.8,4.55,13.35,6.1,13.8,7.6,14.15,8.15,15.75,9,16.3,7.95,17.5,9.05,16.65,11.3,16.3,11.65,15.35,13.7,14.55,12.8,13.5,13.9,12.4,14.8,12.6,15.3,14.25,15.55,15,15.45,16.3,16.5,17.8,17.8,18.5,17.05,17.4,18.5,16.1,20,15.75],[0,14.8,1.1,14.45,2.2,12.6],[2.2,12.6,3.15,12.95,4.05,14.05,4.65,15.35,5.55,15.9,6.5,14.65,7.15,16.1,7.85,17.5,9.25,18.4,9.7,18.4,8.7,17.5],[15.45,16.3,16.3,17.2,18.35,15.9,20,15.75],[18.5,16.65,19,18.5,20,18.5],[7.6,20,7.6,19.45,8.15,19],[11.1,20,11.1,19.65,13.9,19.45,14.05,20],[15.35,20,15.35,19.45,15.75,19.45,15.75,20],[16.75,20,16.75,19.45,20,19.25],[17.05,0,17.5,.85,17.8,0],[16.4,0,17.5,1.75,18.05,1.1,17.85,0],[19.05,10.55,19.65,9.9,20,9.9],[20,11.65,19.65,11.65,19.05,10.55],[19.35,10.55,19.7,10.3,20,10.3],[20,10.9,19.65,10.9,19.35,10.55]];
const loops51=[[3.25,7.5,3.5,7.2,4.65,7.3,4.55,7.7,3.5,7.7],[6.2,7.5,6.5,7.2,6.75,7.5,6.5,7.8],[5.1,8.5,5.45,8.25,5.9,8.5,5.45,8.85],[5.9,9.5,6.5,8.9,7,9.5,6.5,10],[5.9,10.45,6.95,10.45,6.5,11.1],[2.4,11.4,3.5,11.05,4.05,11.5,3.5,12.05],[7.4,6.95,9.55,7.5,8.35,8.5,9.65,9.45,10.75,10.55,9.45,10.65,7.4,9.65,7.2,8.15],[10,14.45,10.65,14.25,10.75,15.75,10.35,15.75],[7.7,13.6,8.6,13.15,8.8,14,8.15,13.9],[5.1,15.45,5.55,15.1,5.9,15.55,5.45,15.85],[7.2,16.4,7.5,15.9,7.85,16.65,7.5,16.75],[13.05,18.5,13.5,17.3,14,18.5],[14.25,2.6,14.65,2.3,14.9,2.7,14.55,2.85],[15.3,3.45,16.75,3.35,16.4,4.35],[18.15,13.5,18.6,13.15,19.05,13.5,18.6,13.8]];
const solid51=[[16.1,16.5,16.5,15.9,17.4,16.5,16.5,16.85],[3.4,10.3,4.25,10.5,3.6,10.6],[5.25,14.5,5.85,14.5,5.85,14.55,5.25,14.55],[5.45,3.45,5.65,3.45,5.45,4],[11,6.4,11.5,6.1,11.3,6.65],[9.25,12.45,9.6,12.4,9.6,12.8,9.4,12.8]];
const dens51=[[0,0,[.05,.05]],[1,0,[.05,.04]],[2,1,[.13]],[3,1,[.14]],[4,1,[.27]],[5,1,[.09,.08]],[15,14,[.1]],[16,13,[.1,.05]],[17,9,[.08,.2,.05,.05,.05,.07,.05]],[18,8,[.06,.08,.08,.06,.06,.06,.06,.05,.05,.05,.05]],[19,8,[.47,.3,.27,.6,.55,.6,.55,.5,.45,.75,1,.65,.8]]];
const pts51=[.2,10.2,.55,10.35,.85,10.1,.9,10.9,2.05,15.35,1.85,14.8,2.4,14.65,2.95,15.1,3.35,15.1,4.8,16.2,5.1,16.95,5.45,16.85,5.35,17.7,6.95,18.25,6.75,19.25,7.05,19.45];
// cos i vs R*
const dense52=[[.15,0,1.5,0,1.8,2.1,2.3,5.2,2.85,7.9,3.35,10,4,11.95,4.7,13.65,5.7,15.2,7.05,16.55,8.4,17.55,10.4,18.6,12.1,18.8,15.8,19,20,19.95,20,20,10.4,20,8.7,19.05,6.35,18.3,4.7,17.15,3,14.45,2.15,12.1,1.3,9.8,.8,7.5,.8,5.15,.3,3.8]];
const white52=[[-.2,0,1.35,0,1.6,2.1,2.1,5.2,2.65,7.9,3.15,10,3.8,11.95,4.5,13.65,5.5,15.2,6.85,16.55,6.6,17.1,5.3,16.3,4.2,14.9,3.4,13,2.8,11.5,2.3,9.3,1.3,7,1,5,.4,3.8,-.2,3.8],[10.6,20,10.6,19.65,11.6,19,15.8,19.05,16.75,19.6,16.9,20]];
const lines52=[[1.3,0,1.65,1.9,2.05,4.4,2.5,6.15,2.85,7.5,3.25,9.6,4.2,12.1,5.35,15,7.2,17.45,6.55,18,5.2,17.35,3.35,14.85,2.65,13.1,1.8,11.15,1,8.05,.8,5.55,.8,3.75,0,3.75],[1,0,1.5,2.1,1.85,4.6,2.2,6.35,2.65,8.05,3,9.8,3.85,12.1,4.85,14.65,6.7,17.35],[1.15,8.05,2.15,11.15,3.15,13.65,3.65,15,5.35,17.25,6.55,17.9],[0,.95,.65,1,.65,2.2,0,2.2],[1.15,3.95,1.5,2.3,1.85,3.95],[10.4,20,10.4,19.45,11.45,19,15.2,19,16.2,19.55,16.3,20],[10.75,20,10.75,19.55,11.4,19.2,14.85,19.2,15.8,19.65,15.85,20],[11.45,20,11.45,19.45,12.9,19.35,12.9,20]];
const loops52=[[2,9.6,2.4,9.25,2.65,10.2,2.5,11.75,2.15,10.8],[1.4,7.3,1.5,5.9,1.85,7.3,1.6,8],[7.5,18.3,8.85,18.1,9.2,18.4,8.5,18.8]];
const dens52=[[0,0,[.1,.1]],[1,0,[.1,.2]],[2,0,[.08,.5]],[3,0,[.05,.25,.1]],[4,1,[1,.25]],[5,1,[1,.3]],[6,1,[.75,.3]],[7,1,[.55,.35]],[8,1,[.15,.5]],[9,1,[.2,.5]],[10,1,[.05,.6,.1]],[11,2,[.35,.35]],[12,2,[.1,.35,.05]],[13,3,[.5,.2]],[14,3,[.05,.4,.05]],[15,4,[.3,.15]],[16,5,[.35,.1]],[17,6,[.5,.08]],[18,7,[.6,.7,.7,.6]],[19,10,[.9,.5,.55,.4,.4,.4,.5,.85,.85,.85]]];
const pts52=[3.15,9.2,1.3,9.7,.5,4.6,2.65,5.95,5.65,17.85,6.2,18.3,.45,5,9.6,18.4];
// cos i vs log Mdot
const dense53=[[1.55,0,6.2,0,6.65,1.65,5.4,4.45,4.55,4.95,3.7,3.85,2.2,2.45],[7.5,5.25,7.7,5.25,8.35,6.45,9.6,9.05,9.85,10.85,8.15,10.85,7.7,8.65],[9.85,11.45,11.1,12.65,13.2,15.25,12.35,16.45,10.45,14.65,10.05,13.05],[.1,1.25,1.35,3.85,3.25,8.25,5.15,11.85,7.7,14.65,9.6,17.05,12.35,18.65,15.35,19.25,15.55,19.05,12.35,18.35,9.85,16.75,8.15,14.35,5.8,11.85,3.9,8.25,2,3.85,.5,1.25]];
const lines53=[[1.55,0,2.2,2.45,4.55,4.95,6.65,1.65,7.3,5.25,7.5,7.45,7.9,9.85,8.35,10.85,9.85,10.95,9.85,11.85,10.45,14.65,12.6,16.45,13.65,17.65,15.55,18.35,16.6,18.55,20,18.5],[2.2,4.45,2.4,3.45,3.9,5.05,5.4,7.45,6.45,7.65,6.65,9.85,7.7,11.45,8.35,13.25,9.85,14.85,12.6,16.55],[2.2,4.45,2.6,6.45,3.9,8.45,4.95,11.05,6.45,12.85,7.95,14.85,9.6,16.75,12.15,18.25,14.9,18.55,15.55,18.55],[0,1.35,.7,1.45,1.8,4.25,2,6.25,3.5,8.45,4.75,11.25,6.2,13.05,7.7,15.05,9.2,16.55,11.75,18.45,13.2,18.95,15.15,19.05,15.55,18.65],[15.55,20,15.55,18.65,16.6,18.4],[18.7,20,18.7,19.45,20,19.05],[6.25,11.4,6.55,11.25,7.1,12.25]];
const loops53=[[6,3.45,6.45,2.75,6.85,4.25,6.45,5.05,6,4.25],[5.4,5.65,5.55,5.25,5.7,5.65,5.55,5.75],[4.35,8.45,4.55,7.95,4.75,8.55,4.55,8.95]];
const dens53=[[14,8,[.02,.05,.05]],[15,9,[.03,.08,.05]],[16,10,[.05,.1,.14,.08]],[17,11,[.06,.16,.12,.08]],[18,13,[.06,.08,.06]],[19,15,[.02,.2,.35,.5,.95]]];
const pts53=[11.5,13.2,12.2,14.5,12.7,14.8,12.2,15.2,13,15.3];
// cos i vs Av
const fuzz54=[[12.8,0,13.9,0,14.3,1.5,14.6,3,14.6,4.5,14.2,5.5,14.3,7.5,14.9,8.5,14.6,10.5,14.2,12,14.6,14,13.6,15.5,14.5,17,15.8,18.8,16.6,20,15,20,13.2,17.6,12.6,15.6,13.3,13,13.35,9.2,12,5.5,13.3,3.7]];
const dense54=[[0,0,4,0,3.9,1.1,3.15,2.4,1.85,4.25,2.4,5.55,1.85,6.4,2.05,8.35,2.05,9.45,1.3,10.1,0,10.45],[6.2,0,10.1,0,9.65,1.3,8.35,1.5,9.05,2.4,7.3,3.7,6.5,4.9,6.3,2.8,6.65,1.3],[10.9,0,13,0,13.5,1.85,13.15,3.7,12.3,5.55,12.85,7.4,13.2,9.25,13.35,11.1,13.35,13,12.6,15.75,13.35,17.6,14.8,19.25,15.55,20,14.35,20,13.35,18.5,11.85,16.3,10.9,13.5,11.95,11.85,11.3,10.55,11.55,6.5,12.5,3.35,10.45,1.95,10.2,1.2],[0,15.85,1.55,15.85,2.6,16.75,3.95,16.4,5.2,18.4,2.8,18.6,1.3,18.9,0,19.25]];
const lines54=[[4,0,3.9,1.1,3.15,2.4,1.85,4.25,2.4,5.55,1.85,6.4,2.05,8.35,2.05,9.45,1.3,10.1,0,10.45],[6.2,0,6.65,1.3,6.3,2.8,6.5,4.9,7.3,3.7,9.05,2.4,8.35,1.5,9.65,1.3,10.1,0],[10.9,0,10.2,1.2,10.45,1.95,12.5,3.35,11.55,6.5,11.3,10.55,11.95,11.85,10.9,13.5,11.95,15.35,12.8,18.5,13.8,20],[7.2,4.6,10.45,2.3,12.2,3.45,11.3,6.85,11,10.55,11.75,11.75],[6.95,5.55,10.45,2.05],[2.3,6.5,3.35,5.85,5.35,5.55,6.1,5.9,6.5,7.4,7.6,6.5,6.95,5.4],[2.3,6.5,2.3,8.35,2.8,9.45,3.6,9.9,4.55,8.8,4.35,10.1,2.4,10.95,1.5,11.85,0,11],[0,14.15,1.65,14.45,2.85,14.15,3.05,15.45,3.5,15.9,4.45,14.8,4.9,17.2,5.55,18,6,16.5,6.5,15.9,7.2,17.15,9.05,16.4,9.45,15.55,10.75,15.55,11.85,17.15,12.3,18.25,13,19.2,13.9,20],[9.45,14.45,10.3,12.2,10.9,13.5],[9.45,14.45,11.85,15.35],[0,15.85,1.55,15.85,2.6,16.75,3.95,16.4,5.2,18.4],[.85,20,1,19.15,2.8,18.6,6.65,18.05,7.3,18.5,7.85,18.45],[5,20,5,19.45,5.9,19.25,7.4,19.05,8.5,19.45,9.45,18.9,11.5,18.9,12.2,19.35,12.2,20],[13.25,18.5,14.2,19.45,14.35,20],[12.95,18.5,13.9,19.45,14.05,20],[.4,20,.6,19.6,1.3,19.1]];
const loops54=[[8.05,4.45,9.45,3.45,9.55,4.65,10.1,4,11.2,4.45,10.55,6.4,8.7,6.5,10,7.5,8.5,8.5,7.85,7.5,8.7,5.45],[5.45,2.05,5.9,2.7,5.45,3.5,6.1,4.55,5.45,5.35,4.55,4.55,5.45,3.5,5.1,2.7],[5.05,4.55,5.45,4.1,5.85,4.55,5.45,5],[2.2,4.45,2.7,4.2,3.05,4.55,2.6,4.85],[3.25,7.4,3.5,6.65,3.85,7.5,3.5,7.85],[4.7,6.5,5.55,6.2,6.1,8.7,6.1,9.65,5.55,10.95,5,10.2,5.2,8.35],[6.4,10.1,7.15,9.45,7.6,9.25,8.6,10.55,6.55,11.4],[10.1,11.5,10.45,10.45,10.55,11.55],[8.7,13.35,9.45,12.5,9.8,13.7],[5.1,12.95,5.45,12.3,5.85,12.95,5.5,14.35,5.1,13.35],[6.5,11.65,6.85,12.1,6.5,14.25,6.4,14.65,7.3,15.2,8.15,14.45,7.3,12.8],[0,12,.75,12.2,.95,12.4,.45,13.05,0,13.15],[.65,13.45,1.4,12.6,2.5,13.25,3.15,11.85,3.45,11.4,3.8,11.85,4,13.7,2.5,13.8,1.55,14.25]];
const solid54=[[3.35,3.5,3.5,3.25,3.75,3.5,3.5,3.8],[0,8.3,.65,8.4,0,8.5],[2.45,12.45,2.55,12.35,2.6,12.55],[3.4,15.4,3.55,15.35,3.6,15.5],[10.4,14.45,10.55,14.4,10.6,14.6]];
const dens54=[[3,9,[.05,.06,.1,.06]],[4,9,[.06,.1,.1,.06]],[5,9,[.07,.1,.1]],[6,8,[.08,.1]],[7,8,[.1,.12]],[8,5,[.08]],[9,5,[.1]],[10,5,[.1]],[13,1,[.1,.05]],[17,8,[.2,.11,.11,.1,.06]],[18,8,[.07,.08,.09,.08,.05]],[19,1,[.2,.13,.27,.15,.4,.47,.47,.4,.33,.7,.93,.7,.2,.1]]];
const pts54=[13.6,.35,13.35,1,13.9,.95,13.8,1.5,13.45,1.65,13.9,1.95,14.55,2.4,15.1,2.5,15.3,1.8,13.6,2.5,13.9,2.85,14.35,3.15,14.8,3.6,15.85,3.05,16,3,15.4,3.35,16.65,3.3,16.55,3.6,17.3,3.55,16.3,1.8,16.2,1.5,17.35,2.3,18.5,2.2,17.65,.85,15.45,4.3,14.7,4.05,14.15,4.15,14.25,5,14.05,4.55,15,5.1,16.2,5.2,16.1,4.9,16.75,5.2,19,5.05,13.25,3.7,12.8,5.2,13.35,5.3,13.25,6.1,13.8,6.4,14.25,6.5,14.65,6.65,14.35,7,14.8,7.05,15.35,7.05,16,6.65,15.75,6.1,15.45,7.3,16.2,7.2,13.8,7.4,14.35,7.6,15.35,7.6,13.8,7.95,14.8,8.5,15.3,8.45,15.85,8.35,16.85,8.2,15.9,8.7,16.3,8.85,17.15,8.85,13.6,8.95,14.55,9.05,15.9,9.25,15.35,9.45,14.95,9.55,16,9.7,14.45,9.55,13.8,9.65,18.05,9.25,18.2,9.15,13.45,10.55,13.8,10.65,15,10.35,14.9,10.55,15.2,10.85,15.85,10.75,14,11.3,14.55,11.55,15.3,12.15,15.95,12.3,14.65,12.55,15.35,12.5,14.9,12.8,15.35,12.8,16.75,12.95,16.85,12.8,17.3,12.7,13.8,13.35,14.35,12.95,14.45,13.25,14.7,13.65,14.25,14,13.9,14.2,13.35,14.25,13.6,14.8,15,15,13.6,15.45,14,15.45,14.45,15.75,14.8,16.2,15.3,16.4,15.65,16.5,14.9,16.55,14.25,16.75,14.35,17.15,14.55,17.8,15.2,17.95,15.75,17.9,16.55,18,18.05,18.05,15.3,18.25,16,18.45,16.3,18.35,16.75,18.3,15.1,18.65,15.75,19.4,16.3,19.65,16.95,19.7,15.2,19.65];

// ---------- registry of panels built from the lists above ----------
const panelTable=[
 {r:1,c:0,fuzz:fuzz21,sparse:sparse21,white:white21,lines:lines21,loops:loops21,solid:solid21,dens:dens21,pts:pts21},
 {r:2,c:0,fuzz:fuzz31,sparse:sparse31,dense:dense31,lines:lines31,loops:loops31,solid:solid31,dens:dens31,pts:pts31},
 {r:2,c:1,fuzz:fuzz32,dense:dense32,white:white32,lines:lines32,loops:loops32,solid:solid32,dens:dens32,pts:pts32},
 {r:3,c:0,fuzz:fuzz41,dense:dense41,lines:lines41,loops:loops41,solid:solid41,dens:dens41,pts:pts41},
 {r:3,c:1,fuzz:fuzz42,sparse:sparse42,dense:dense42,white:white42,lines:lines42,loops:loops42,dens:dens42,pts:pts42},
 {r:3,c:2,fuzz:fuzz43,sparse:sparse43,dense:dense43,lines:lines43,loops:loops43,solid:solid43,dens:dens43,pts:pts43},
 {r:4,c:0,fuzz:fuzz51,sparse:sparse51,dense:dense51,white:white51,lines:lines51,loops:loops51,solid:solid51,dens:dens51,pts:pts51},
 {r:4,c:1,dense:dense52,white:white52,lines:lines52,loops:loops52,dens:dens52,pts:pts52},
 {r:4,c:2,dense:dense53,lines:lines53,loops:loops53,dens:dens53,pts:pts53},
 {r:4,c:3,fuzz:fuzz54,dense:dense54,lines:lines54,loops:loops54,solid:solid54,dens:dens54,pts:pts54}
];

// ---------- layout ----------
const size=360, step=378, left=180, top0=72;
const svg=d3.select("#c");
const xs=domains.map((d,i)=>d3.scaleLinear().domain(d).range([left+step*i,left+step*i+size]));
const ys=domains.map((d,i)=>d3.scaleLinear().domain(d).range([top0+step*i+size,top0+step*i]));
const gridX=domains.map(d=>d3.scaleLinear().domain([0,20]).range(d));
const gridY=domains.map(d=>d3.scaleLinear().domain([0,20]).range([d[1],d[0]]));
const grayScale=d3.scaleLinear().domain([0,1]).range(["#ffffff","#000000"]);
const pairs=a=>d3.range(0,a.length,2).map(i=>[a[i],a[i+1]]);

// speckle textures for the regions too dense to resolve into individual samples
const defs=svg.append("defs");
const speck=[[3,2],[12,5],[19,1],[28,4],[35,2],[44,6],[52,1],[60,5],[6,10],[15,12],[24,9],[31,12],[40,10],[48,13],[56,9],[63,12],[2,18],[10,19],[20,16],[27,20],[37,17],[44,20],[53,17],[60,20],[7,26],[16,25],[23,28],[33,25],[40,28],[49,25],[57,27],[63,28],[3,34],[12,33],[19,36],[29,33],[36,36],[45,33],[52,36],[61,35],[8,42],[15,41],[25,43],[32,41],[41,44],[48,41],[57,43],[63,42],[2,50],[11,49],[20,51],[28,49],[37,52],[44,50],[53,49],[60,51],[6,58],[16,57],[23,59],[33,57],[40,60],[49,57],[56,60],[63,58]];
const tile=(id,base,col,r,keep)=>{
  const p=defs.append("pattern").attr("id",id).attr("patternUnits","userSpaceOnUse").attr("width",66).attr("height",62);
  p.append("rect").attr("width",66).attr("height",62).attr("fill",base);
  speck.filter((d,i)=>keep(i)).forEach((d,i)=>p.append("circle").attr("cx",d[0]).attr("cy",d[1]).attr("r",r).attr("fill",i%9===4&&col!=="#cfcfcf"?"#555":col));
};
tile("texMed","#fff","#121212",4.4,i=>i%13!==3);
tile("texFuzz","#fff","#141414",3.1,i=>i%5!==0&&i%5!==2);
tile("texDense","#1a1a1a","#d8d8d8",1,i=>i%3===1);

// ---------- helpers ----------
function frame(g,i,j,yT){
  g.append("g").attr("transform",`translate(0,${ys[i].range()[0]})`).call(d3.axisBottom(xs[j]).tickValues(ticks[j]).tickSize(10).tickFormat("")).call(a=>{a.select(".domain").remove();a.selectAll("line").attr("stroke","#000").attr("stroke-width",2)});
  const yAxis=yT?d3.axisLeft(yT.scale).tickValues(yT.vals):d3.axisLeft(ys[i]).tickValues(ticks[i]);
  g.append("g").attr("transform",`translate(${xs[j].range()[0]},0)`).call(yAxis.tickSize(10).tickFormat("")).call(a=>{a.select(".domain").remove();a.selectAll("line").attr("stroke","#000").attr("stroke-width",2)});
  g.append("rect").attr("x",xs[j].range()[0]).attr("y",ys[i].range()[1]).attr("width",size).attr("height",size).attr("fill","none").attr("stroke","#000").attr("stroke-width",2);
}
function clipFor(i,j){
  const id=`clip${i}_${j}`;
  defs.append("clipPath").attr("id",id).append("rect").attr("x",xs[j].range()[0]).attr("y",ys[i].range()[1]).attr("width",size).attr("height",size);
  return `url(#${id})`;
}
function mathRun(g,parts,fs){
  let x=0;
  const put=(t,it,size,dy,anchorMid)=>{
    const n=g.append("text").attr("x",x).attr("y",dy).attr("font-size",size).attr("font-style",it?"italic":"normal").text(t);
    if(anchorMid) n.attr("text-anchor","middle");
    return n;
  };
  parts.forEach(p=>{
    if(p.stack){
      const a=put(p.stack[0],false,fs*.71,-fs*.43), b=put(p.stack[1],false,fs*.71,fs*.28);
      x+=Math.max(a.node().getComputedTextLength(),b.node().getComputedTextLength());
    } else if(p.dot){
      put("˙",false,fs,-fs*.2,true).attr("x",x-fs*.38);
    } else if(p.star){
      const n=put("∗",false,fs*.6,fs*.1);
      x+=n.node().getComputedTextLength()+fs*.06;
    } else {
      const n=put(p.t,p.it,p.sub?fs*.7:fs,p.sub?fs*.14:0);
      x+=n.node().getComputedTextLength();
    }
  });
  return x;
}
const nameParts=[
 [{t:"M",it:true},{star:true}],
 [{t:"R",it:true},{star:true},{t:"*"}],
 [{t:"log"},{t:"M",it:true},{dot:true}],
 [{t:"A",it:true},{t:"V",it:true,sub:true}],
 [{t:"cos"},{t:"i",it:true}]
];
const FS=39.5;
const xLabelBase=[2086,2086,2092,2083,2084];
function centered(parent,parts,fs){
  const g=parent.append("g");
  const w=mathRun(g,parts,fs);
  g.selectAll("text").attr("dx",-w/2);
  return g;
}
function rotatedTick(txt,cx,cy){
  svg.append("text").attr("transform",`translate(${cx},${cy}) rotate(-45)`).attr("text-anchor","middle").attr("dy","0.36em").attr("font-size",FS).text(txt);
}
const fmt=v=>(v<0?"−":"")+Math.abs(v).toFixed(1);
const measure=(()=>{const t=svg.append("text").attr("font-size",FS).attr("visibility","hidden");return s=>{t.text(s);return t.node().getComputedTextLength();};})();
const boxOf=s=>(measure(s)+29)*Math.SQRT1_2;

// ---------- 1-D histograms ----------
hists.forEach((h,k)=>{
  const g=svg.append("g");
  const maxV=d3.max(h);
  const yH=d3.scaleLinear().domain([-0.1*maxV,1.1*maxV]).range([ys[k].range()[0],ys[k].range()[1]]);
  const d0=domains[k], w=(d0[1]-d0[0])/20;
  const pts=[[d0[0],0]];
  h.forEach((v,i)=>{pts.push([d0[0]+i*w,v]);pts.push([d0[0]+(i+1)*w,v]);});
  const clip=clipFor(k,k);
  const body=g.append("g").attr("clip-path",clip);
  body.append("path").attr("d",d3.line().x(d=>xs[k](d[0])).y(d=>yH(d[1]))(pts)).attr("fill","none").attr("stroke","#1a1a1a").attr("stroke-width",2.8);
  [q16[k],q84[k]].forEach(q=>body.append("line").attr("x1",xs[k](q)).attr("x2",xs[k](q)).attr("y1",yH.range()[0]).attr("y2",yH.range()[1]).attr("stroke","#000").attr("stroke-width",4).attr("stroke-dasharray","15,6"));
  body.append("line").attr("x1",xs[k](medians[k])).attr("x2",xs[k](medians[k])).attr("y1",yH.range()[0]).attr("y2",yH.range()[1]).attr("stroke","#f00").attr("stroke-width",4);
  frame(g,k,k,{scale:yH,vals:histTicks[k]});
  // title
  const tg=svg.append("g").attr("transform",`translate(${(xs[k].range()[0]+xs[k].range()[1])/2},${ys[k].range()[1]-15})`);
  centered(tg,[...nameParts[k],{t:" = "+titleVals[k][0]},{stack:[titleVals[k][1],titleVals[k][2]]}],FS);
});

// ---------- 2-D panels ----------
const lineGen=(i,j)=>d3.line().x(d=>xs[j](gridX[j](d[0]))).y(d=>ys[i](gridY[i](d[1])));
panelTable.forEach(p=>{
  const i=p.r,j=p.c,L=lineGen(i,j);
  const g=svg.append("g");
  const b=g.append("g").attr("clip-path",clipFor(i,j));
  const paintDark=()=>{
    (p.fuzz||[]).forEach(a=>b.append("path").attr("d",L(pairs(a))+"Z").attr("fill","url(#texFuzz)"));
    (p.sparse||[]).forEach(a=>b.append("path").attr("d",L(pairs(a))+"Z").attr("fill","url(#texMed)"));
    (p.dense||[]).forEach(a=>b.append("path").attr("d",L(pairs(a))+"Z").attr("fill","url(#texDense)"));
  };
  const paintCells=()=>(p.dens||[]).forEach(([row,c0,vals])=>vals.forEach((v,n)=>{
    const c=c0+n;
    const x0=xs[j](gridX[j](c)),x1=xs[j](gridX[j](c+1)),y0=ys[i](gridY[i](row)),y1=ys[i](gridY[i](row+1));
    b.append("rect").attr("x",x0).attr("y",y0).attr("width",x1-x0+.4).attr("height",y1-y0+.4).attr("fill",grayScale(v));
  }));
  if(p.white){
    paintDark();
    p.white.forEach(a=>b.append("path").attr("d",L(pairs(a))+"Z").attr("fill","#fff"));
    paintCells();
  } else {
    paintCells();
    paintDark();
  }
  b.selectAll(null).data(pairs(p.pts||[])).enter().append("circle")
    .attr("cx",d=>xs[j](gridX[j](d[0]))).attr("cy",d=>ys[i](gridY[i](d[1]))).attr("r",3)
    .attr("fill",(d,k)=>k%7===3?"#8a8a8a":k%11===5?"#cfcfcf":"#0c0c0c");
  (p.solid||[]).forEach(a=>b.append("path").attr("d",L(pairs(a))+"Z").attr("fill","#111").attr("stroke","#000").attr("stroke-width",3));
  (p.lines||[]).forEach(a=>b.append("path").attr("d",L(pairs(a))).attr("fill","none").attr("stroke","#000").attr("stroke-width",3.6).attr("stroke-linejoin","miter"));
  (p.loops||[]).forEach(a=>b.append("path").attr("d",L(pairs(a))+"Z").attr("fill","none").attr("stroke","#000").attr("stroke-width",3.6));
  const mx=xs[j](medians[j]), my=ys[i](medians[i]);
  b.append("line").attr("x1",mx).attr("x2",mx).attr("y1",ys[i].range()[0]).attr("y2",ys[i].range()[1]).attr("stroke","#f00").attr("stroke-width",4);
  b.append("line").attr("x1",xs[j].range()[0]).attr("x2",xs[j].range()[1]).attr("y1",my).attr("y2",my).attr("stroke","#f00").attr("stroke-width",4);
  b.append("path").attr("d",d3.symbol(d3.symbolSquare,17.5*17.5)()).attr("transform",`translate(${mx},${my})`).attr("fill","#f00");
  frame(g,i,j);
});

// ---------- tick labels and axis labels ----------
domains.forEach((d,k)=>{
  ticks[k].forEach(t=>{
    const s=fmt(t), box=boxOf(s);
    rotatedTick(s,xs[k](t),ys[4].range()[0]+22+box/2);
  });
  const xg=svg.append("g").attr("transform",`translate(${(xs[k].range()[0]+xs[k].range()[1])/2},${xLabelBase[k]})`);
  centered(xg,nameParts[k],FS);
  if(k>0){
    ticks[k].forEach(t=>{
      const s=fmt(t), box=boxOf(s);
      rotatedTick(s,left-26-box/2,ys[k](t)-10+box/2);
    });
    const yg=svg.append("g").attr("transform",`translate(64,${(ys[k].range()[0]+ys[k].range()[1])/2}) rotate(-90)`);
    centered(yg,nameParts[k],FS);
  }
});
</script></body></html>
